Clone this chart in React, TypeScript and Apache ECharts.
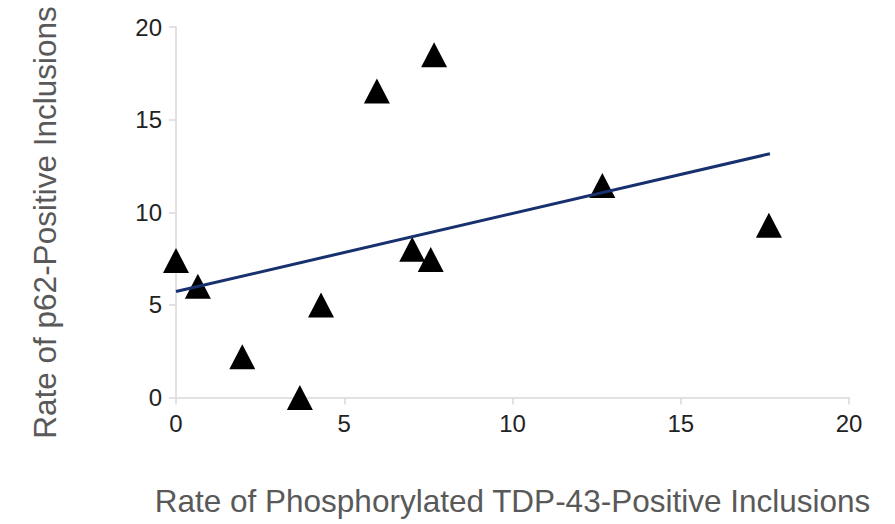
import React, { useEffect, useRef } from "react";
import * as echarts from "echarts";

const tdp43Rates = [0, 0.65, 1.97, 3.68, 4.31, 5.97, 7.02, 7.57, 7.67, 12.67, 17.62];
const p62Rates = [7.4, 6.0, 2.2, 0, 5.0, 16.55, 8.0, 7.45, 18.5, 11.45, 9.3];
const trendX = [0, 17.65];
const trendY = [5.72, 13.16];
const xTitle = "Rate of Phosphorylated TDP-43-Positive Inclusions";
const yTitle = "Rate of p62-Positive Inclusions";

export default function App() {
  const ref = useRef<HTMLDivElement>(null);
  useEffect(() => {
    if (!ref.current) return;
    const chart = echarts.init(ref.current, null, { renderer: "svg" });
    const font = "'Liberation Sans', Arial, sans-serif";
    chart.setOption({
      animation: false,
      backgroundColor: "#ffffff",
      grid: { left: 176, right: 46, top: 27, bottom: 126.5, containLabel: false },
      xAxis: {
        type: "value",
        min: 0,
        max: 20,
        interval: 5,
        axisLine: { show: true, lineStyle: { color: "#d9d9d9", width: 1.5 } },
        axisTick: { show: true, length: 7, lineStyle: { color: "#d9d9d9", width: 1.5 } },
        splitLine: { show: false },
        axisLabel: { color: "#222222", fontSize: 24, fontFamily: font, margin: 14 },
      },
      yAxis: {
        type: "value",
        min: 0,
        max: 20,
        interval: 5,
        axisLine: { show: true, lineStyle: { color: "#d9d9d9", width: 1.5 } },
        axisTick: { show: true, length: 7, lineStyle: { color: "#d9d9d9", width: 1.5 } },
        splitLine: { show: false },
        axisLabel: { color: "#222222", fontSize: 24, fontFamily: font, margin: 14 },
      },
      series: [
        {
          type: "line",
          data: trendX.map((x, i) => [x, trendY[i]]),
          symbol: "none",
          lineStyle: { color: "#17306e", width: 3 },
          z: 3,
        },
        {
          type: "scatter",
          data: tdp43Rates.map((x, i) => [x, p62Rates[i]]),
          symbol: "triangle",
          symbolSize: [26, 25],
          itemStyle: { color: "#000000", opacity: 1 },
          z: 2,
        },
      ],
      graphic: [
        {
          type: "text",
          x: 512.5,
          y: 501,
          style: {
            text: xTitle,
            fontSize: 31.5,
            fontFamily: font,
            fill: "#595959",
            align: "center",
            verticalAlign: "middle",
          },
        },
        {
          type: "text",
          x: 45,
          y: 222.5,
          rotation: Math.PI / 2,
          style: {
            text: yTitle,
            fontSize: 31.5,
            fontFamily: font,
            fill: "#595959",
            align: "center",
            verticalAlign: "middle",
          },
        },
      ],
    });
    return () => chart.dispose();
  }, []);
  return <div ref={ref} style={{ width: 895, height: 524, position: "absolute", left: 0, top: 0 }} />;
}
